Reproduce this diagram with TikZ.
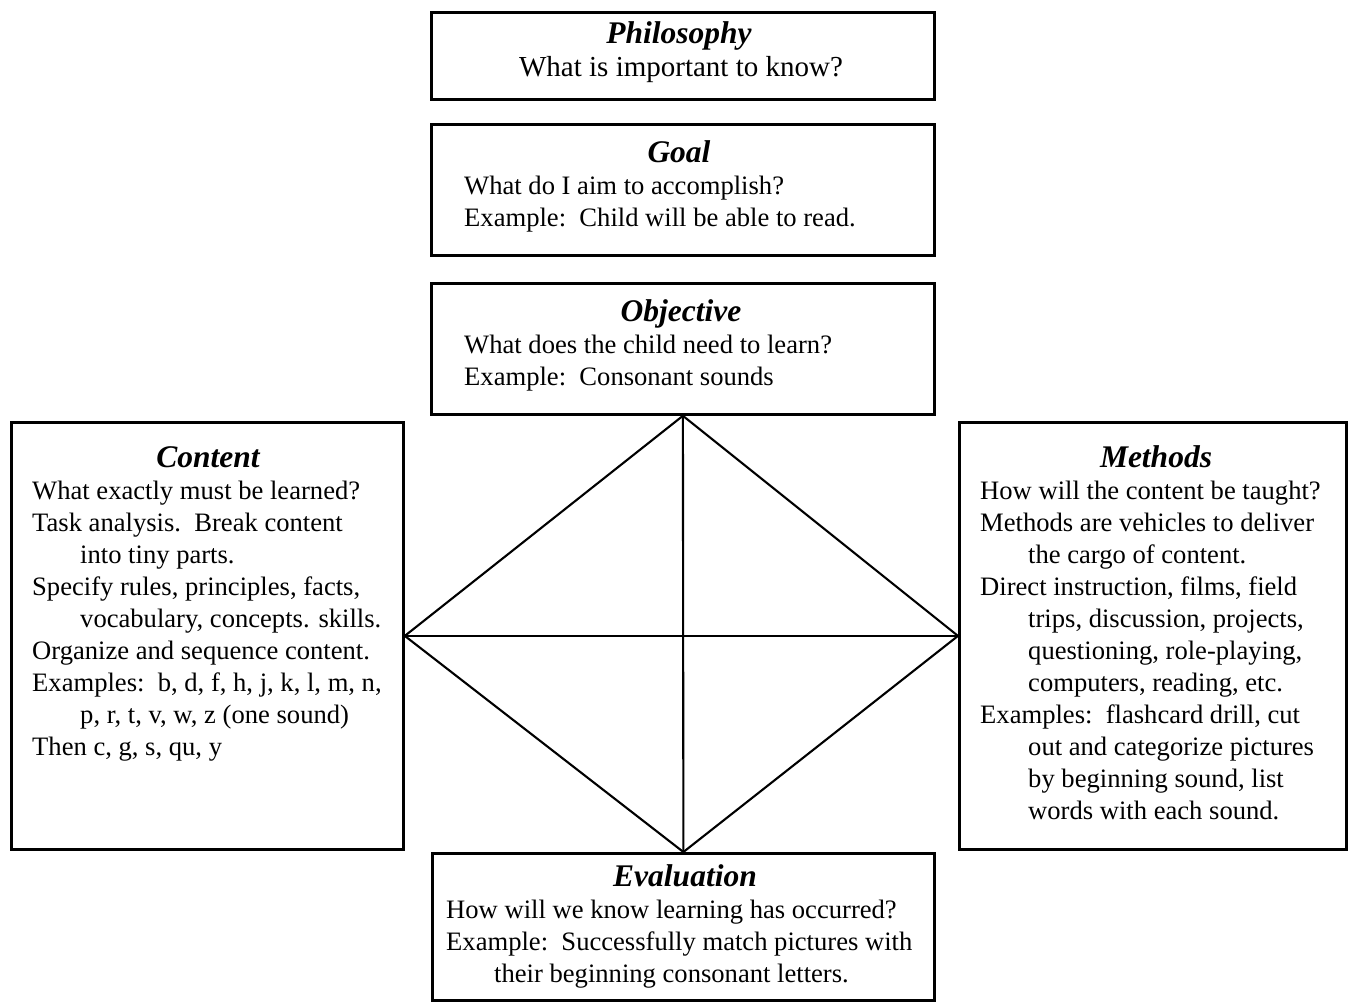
\documentclass[tikz,border=0pt]{standalone}
\usepackage{fontspec}
\setmainfont{Liberation Serif}
\begin{document}
\begin{tikzpicture}[x=1pt,y=-1pt,
  box/.style={draw,line width=2.8pt,inner sep=0pt,anchor=north west},
  ttl/.style={font=\fontsize{31.5}{34}\selectfont\bfseries\itshape,anchor=base,inner sep=0pt},
  txt/.style={font=\fontsize{26.6}{32}\selectfont,anchor=base west,inner sep=0pt},
  bigtxt/.style={font=\fontsize{29}{32}\selectfont,anchor=base,inner sep=0pt},
  link/.style={line width=2.1pt,line join=miter}]
\useasboundingbox (0,0) rectangle (1353,1002);
% boxes
\node[box,minimum width=503pt,minimum height=87pt] (phil) at (430,11) {};
\node[box,minimum width=503pt,minimum height=131pt] (goal) at (430,123) {};
\node[box,minimum width=503pt,minimum height=131pt] (obj) at (430,282) {};
\node[box,minimum width=392pt,minimum height=427pt] (cont) at (10,421) {};
\node[box,minimum width=387pt,minimum height=427pt] (meth) at (958,421) {};
\node[box,minimum width=502pt,minimum height=147pt] (eval) at (431,852) {};
% diamond
\draw[link] (obj.south) -- (cont.east) -- (eval.north) -- (meth.west) -- cycle;
\draw[link] (obj.south) -- (eval.north);
\draw[link] (cont.east) -- (meth.west);
% Philosophy
\node[ttl] (philT) at (679,43) {Philosophy};
\node[bigtxt] (phil1) at (681,76) {What is important to know?};
% Goal
\node[ttl] (goalT) at (679,162) {Goal};
\node[txt] (goal1) at (464,194) {What do I aim to accomplish?};
\node[txt] (goal2) at (464,226) {Example:\ \ Child will be able to read.};
% Objective
\node[ttl] (objT) at (681,321) {Objective};
\node[txt] (obj1) at (464,353) {What does the child need to learn?};
\node[txt] (obj2) at (464,385) {Example:\ \ Consonant sounds};
% Content
\node[ttl] (contT) at (208,467) {Content};
\node[txt] (c1) at (32,499) {What exactly must be learned?};
\node[txt] (c2) at (32,531) {Task analysis.\ \ Break content};
\node[txt] (c3) at (80,563) {into tiny parts.};
\node[txt] (c4) at (32,595) {Specify rules, principles, facts,};
\node[txt] (c5) at (80,627) {vocabulary, concepts. skills.};
\node[txt] (c6) at (32,659) {Organize and sequence content.};
\node[txt] (c7) at (32,691) {Examples:\ \ b, d, f, h, j, k, l, m, n,};
\node[txt] (c8) at (80,723) {p, r, t, v, w, z (one sound)};
\node[txt] (c9) at (32,755) {Then c, g, s, qu, y};
% Methods
\node[ttl] (methT) at (1156,467) {Methods};
\node[txt] (m1) at (980,499) {How will the content be taught?};
\node[txt] (m2) at (980,531) {Methods are vehicles to deliver};
\node[txt] (m3) at (1028,563) {the cargo of content.};
\node[txt] (m4) at (980,595) {Direct instruction, films, field};
\node[txt] (m5) at (1028,627) {trips, discussion, projects,};
\node[txt] (m6) at (1028,659) {questioning, role-playing,};
\node[txt] (m7) at (1028,691) {computers, reading, etc.};
\node[txt] (m8) at (980,723) {Examples:\ \ flashcard drill, cut};
\node[txt] (m9) at (1028,755) {out and categorize pictures};
\node[txt] (m10) at (1028,787) {by beginning sound, list};
\node[txt] (m11) at (1028,819) {words with each sound.};
% Evaluation
\node[ttl] (evalT) at (685,886) {Evaluation};
\node[txt] (e1) at (446,918) {How will we know learning has occurred?};
\node[txt] (e2) at (446,950) {Example:\ \ Successfully match pictures with};
\node[txt] (e3) at (494,982) {their beginning consonant letters.};
\end{tikzpicture}
\end{document}
